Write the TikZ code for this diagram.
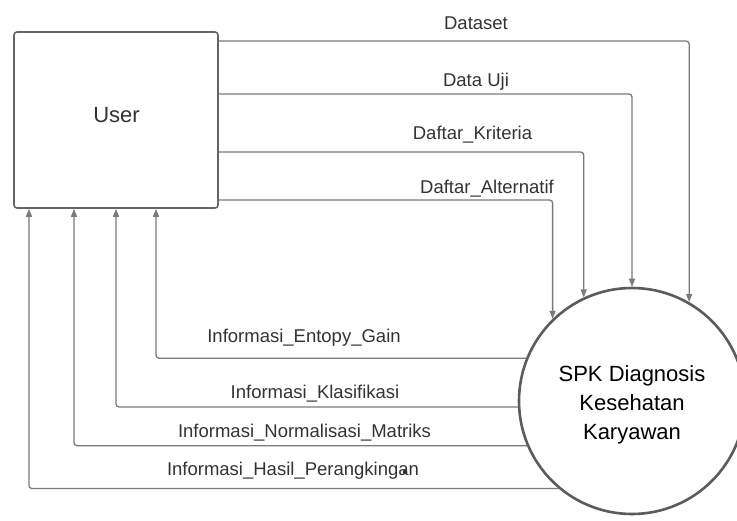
\documentclass[tikz,border=0pt]{standalone}
\usepackage{fontspec}
\setmainfont{Liberation Sans}
\usetikzlibrary{arrows.meta}
\definecolor{wire}{HTML}{7A7A7A}
\definecolor{ink}{HTML}{333333}
\definecolor{frame}{HTML}{666666}
\tikzset{
  entity/.style={draw=frame, line width=1.6pt, rounded corners=3pt, fill=white,
    minimum width=204pt, minimum height=176pt, inner sep=0pt},
  process/.style={draw=frame!90!black, line width=2.6pt, circle, fill=white,
    minimum size=226pt, inner sep=0pt},
  flow/.style={draw=wire, line width=1.3pt, rounded corners=3pt,
    -{Triangle[length=8pt,width=6pt]}},
  flowlbl/.style={text=ink, font=\fontsize{18.5}{22}\selectfont, inner sep=0pt},
  biglbl/.style={text=ink, font=\fontsize{22}{26}\selectfont, inner sep=0pt},
  proclbl/.style={text=black, align=center, inner sep=0pt,
    font=\fontsize{22}{29}\selectfont}
}
\begin{document}
\begin{tikzpicture}[x=1pt,y=-1pt]
  \useasboundingbox[fill=white] (0,0) rectangle (737,520);

  % external entity and process
  \node[entity] (user) at (116,120) {};
  \node[biglbl] (userlbl) at (116.5,115.5) {User};
  \node[process] (spk) at (632,401) {};
  \node[proclbl] (spklbl) at (632,405) {SPK Diagnosis\\Kesehatan\\Karyawan};

  % heights of the incoming flows
  \coordinate (yDs) at (0,41);
  \coordinate (yDu) at (0,94);
  \coordinate (yKr) at (0,152);
  \coordinate (yAl) at (0,200);
  % columns of the outgoing flows
  \coordinate (xHs) at (29,0);
  \coordinate (xNm) at (74,0);
  \coordinate (xKl) at (116,0);
  \coordinate (xEg) at (156,0);

  % user -> process
  \draw[flow] (user.east |- yDs) -| (spk.60);
  \draw[flow] (user.east |- yDu) -| (spk.90);
  \draw[flow] (user.east |- yKr) -| (spk.115.5);
  \draw[flow] (user.east |- yAl) -| (spk.134.6);

  % process -> user
  \draw[flow] (spk.158.4) -| (xEg |- user.south);
  \draw[flow] (spk.183) -| (xKl |- user.south);
  \draw[flow] (spk.203.8) -| (xNm |- user.south);
  \draw[flow] (spk.230.5) -| (xHs |- user.south);

  % flow labels
  \node[flowlbl] (lDs) at (476,23) {Dataset};
  \node[flowlbl] (lDu) at (476,82) {Data Uji};
  \node[flowlbl] (lKr) at (472.5,135) {Daftar\_Kriteria};
  \node[flowlbl] (lAl) at (487,189) {Daftar\_Alternatif};
  \node[flowlbl] (lEg) at (304,338) {Informasi\_Entopy\_Gain};
  \node[flowlbl] (lKl) at (315,394) {Informasi\_Klasifikasi};
  \node[flowlbl] (lNm) at (304.5,433) {Informasi\_Normalisasi\_Matriks};
  \node[flowlbl] (lHs) at (293,471) {Informasi\_Hasil\_Perangkingan};
  \fill[ink] (405,472) circle (2.3pt);
\end{tikzpicture}
\end{document}
